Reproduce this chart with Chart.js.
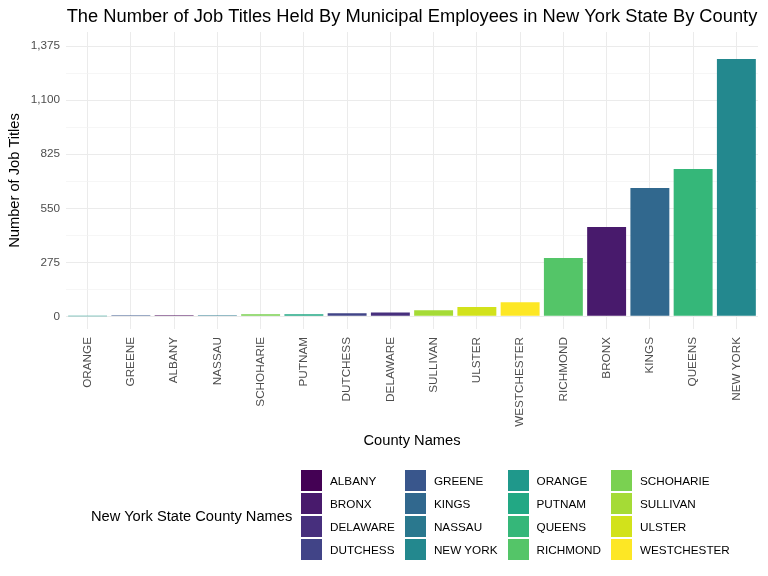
<!DOCTYPE html>
<html>
<head>
<meta charset="utf-8">
<script src="https://cdn.jsdelivr.net/npm/chart.js@4.4.1/dist/chart.umd.min.js"></script>
<style>
  html, body { margin: 0; padding: 0; background: #fff; }
  #wrap { position: relative; width: 768px; height: 576px; font-family: "Liberation Sans", Arial, sans-serif; }
  #legendTitle { position: absolute; left: 91px; top: 508px; font-size: 14.67px; color: #000; white-space: nowrap; }
  #legend { position: absolute; left: 301px; top: 469px; display: flex; gap: 10px; }
  .col { display: flex; flex-direction: column; }
  .item { display: flex; align-items: center; height: 23px; }
  .key { width: 21px; height: 21px; }
  .lbl { margin-left: 8px; font-size: 11.73px; color: #000; white-space: nowrap; }
</style>
</head>
<body>
<div id="wrap">
  <canvas id="jobChart" width="768" height="576"></canvas>
  <div id="legendTitle">New York State County Names</div>
  <div id="legend"></div>
</div>
<script>
// counties sorted by number of job titles
const counties = ["ORANGE", "GREENE", "ALBANY", "NASSAU", "SCHOHARIE", "PUTNAM", "DUTCHESS", "DELAWARE",
    "SULLIVAN", "ULSTER", "WESTCHESTER", "RICHMOND", "BRONX", "KINGS", "QUEENS", "NEW YORK"];
const jobTitles = [1, 6, 6, 5, 10, 11, 16, 20, 31, 47, 72, 297, 455, 653, 750, 1310];

// legend: alphabetical, viridis palette
const legendNames = ["ALBANY", "BRONX", "DELAWARE", "DUTCHESS", "GREENE", "KINGS", "NASSAU", "NEW YORK",
    "ORANGE", "PUTNAM", "QUEENS", "RICHMOND", "SCHOHARIE", "SULLIVAN", "ULSTER", "WESTCHESTER"];
const legendColors = ["#440154", "#481A6C", "#472F7D", "#414487", "#39568C", "#31688E", "#2A788E", "#23888E",
    "#1F988B", "#22A884", "#35B779", "#54C568", "#7AD151", "#A5DB36", "#D2E21B", "#FDE725"];

const yTicks = [0, 275, 550, 825, 1100, 1375];
const yMinorStep = 137.5;

const barColors = counties.map(c => legendColors[legendNames.indexOf(c)]);

// legend html, column-major 4 x 4
const legendEl = document.getElementById("legend");
for (let c = 0; c < 4; c++) {
    const col = document.createElement("div");
    col.className = "col";
    for (let r = 0; r < 4; r++) {
        const i = c * 4 + r;
        const item = document.createElement("div");
        item.className = "item";
        item.innerHTML = '<div class="key" style="background:' + legendColors[i] + '"></div>' +
            '<span class="lbl">' + legendNames[i] + '</span>';
        col.appendChild(item);
    }
    legendEl.appendChild(col);
}

const isMajor = v => yTicks.includes(v);
const fontFamily = '"Liberation Sans", Arial, sans-serif';

new Chart(document.getElementById("jobChart").getContext("2d"), {
    type: "bar",
    data: {
        labels: counties,
        datasets: [{
            data: jobTitles,
            backgroundColor: barColors,
            borderWidth: 0,
            categoryPercentage: 1,
            barPercentage: 0.9
        }]
    },
    options: {
        responsive: false,
        animation: false,
        layout: { padding: { left: 0, right: 10, top: 0, bottom: 120 } },
        plugins: {
            legend: { display: false },
            tooltip: { enabled: false },
            title: {
                display: true,
                text: "The Number of Job Titles Held By Municipal Employees in New York State By County",
                color: "#000",
                fullSize: false,
                font: { family: fontFamily, size: 18.3, weight: "normal" },
                padding: { top: 6, bottom: 4 }
            }
        },
        scales: {
            x: {
                grid: { color: "#EBEBEB", lineWidth: 1, offset: false, drawTicks: false },
                border: { display: false },
                ticks: {
                    color: "#4D4D4D",
                    font: { family: fontFamily, size: 11.73 },
                    minRotation: 90,
                    maxRotation: 90,
                    autoSkip: false,
                    padding: 8
                },
                title: {
                    display: true,
                    text: "County Names",
                    color: "#000",
                    font: { family: fontFamily, size: 14.67 },
                    padding: { top: 0, bottom: 6 }
                },
                afterFit: scale => { scale.height = 127; }
            },
            y: {
                min: -64.5,
                max: 1447.5,
                grid: {
                    drawTicks: false,
                    color: ctx => isMajor(ctx.tick.value) ? "#EBEBEB" : "#F2F2F2",
                    lineWidth: ctx => isMajor(ctx.tick.value) ? 1 : 0.7
                },
                border: { display: false },
                afterBuildTicks: scale => {
                    const t = [];
                    for (let v = 0; v <= 1375; v += yMinorStep) t.push({ value: v });
                    scale.ticks = t;
                },
                ticks: {
                    color: "#4D4D4D",
                    font: { family: fontFamily, size: 11.73 },
                    padding: 6,
                    callback: v => isMajor(v) ? v.toLocaleString("en-US") : ""
                },
                title: {
                    display: true,
                    text: "Number of Job Titles",
                    color: "#000",
                    font: { family: fontFamily, size: 14.67 },
                    padding: { top: 6, bottom: 0 }
                },
                afterFit: scale => { scale.width = 66; }
            }
        }
    }
});
</script>
</body>
</html>
